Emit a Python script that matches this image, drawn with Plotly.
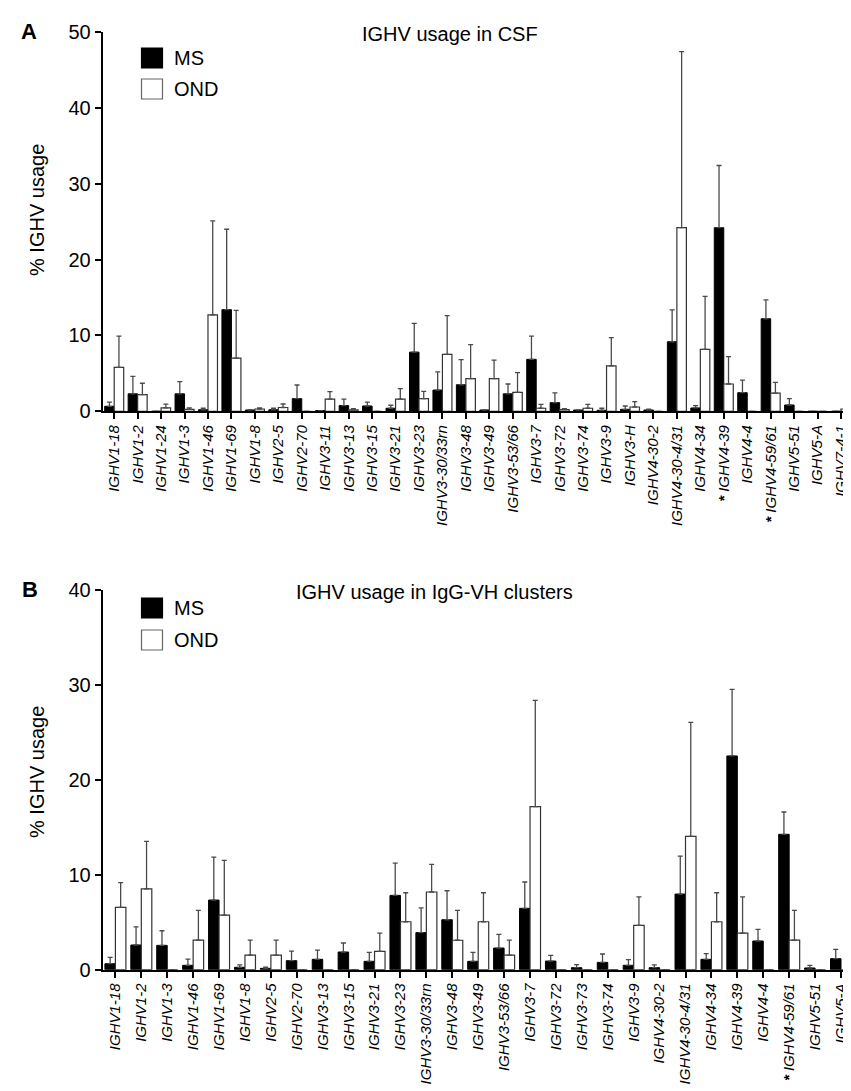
import plotly.graph_objects as go

# ---------------- Panel A: IGHV usage in CSF ----------------
genes_A = ["IGHV1-18", "IGHV1-2", "IGHV1-24", "IGHV1-3", "IGHV1-46", "IGHV1-69", "IGHV1-8",
           "IGHV2-5", "IGHV2-70", "IGHV3-11", "IGHV3-13", "IGHV3-15", "IGHV3-21", "IGHV3-23",
           "IGHV3-30/33rn", "IGHV3-48", "IGHV3-49", "IGHV3-53/66", "IGHV3-7", "IGHV3-72",
           "IGHV3-74", "IGHV3-9", "IGHV3-H", "IGHV4-30-2", "IGHV4-30-4/31", "IGHV4-34",
           "IGHV4-39", "IGHV4-4", "IGHV4-59/61", "IGHV5-51", "IGHV5-A", "IGHV7-4-1"]
sig_A = ["IGHV4-39", "IGHV4-59/61"]
ms_A = [0.66, 2.3, 0.0, 2.3, 0.2, 13.4, 0.17, 0.2, 1.67, 0.1, 0.75, 0.7, 0.4, 7.8,
        2.8, 3.5, 0.17, 2.3, 6.85, 1.14, 0.17, 0.13, 0.26, 0.17, 9.17, 0.44,
        24.2, 2.45, 12.2, 0.83, 0.0, 0.0]
ms_A_sem = [0.55, 2.3, 0.0, 1.6, 0.2, 10.6, 0.05, 0.2, 1.8, 0.0, 0.85, 0.5, 0.4, 3.8,
            2.4, 3.3, 0.0, 1.3, 3.05, 1.3, 0.0, 0.27, 0.44, 0.1, 4.2, 0.3,
            8.2, 1.65, 2.5, 0.85, 0.0, 0.0]
ond_A = [5.8, 2.2, 0.44, 0.26, 12.7, 7.0, 0.3, 0.5, 0.0, 1.6, 0.2, 0.0, 1.6, 1.67,
         7.5, 4.3, 4.3, 2.5, 0.4, 0.22, 0.4, 6.0, 0.57, 0.0, 24.2, 8.16,
         3.6, 0.0, 2.4, 0.0, 0.0, 0.3]
ond_A_sem = [4.1, 1.5, 0.5, 0.18, 12.4, 6.3, 0.15, 0.46, 0.0, 1.0, 0.15, 0.0, 1.4, 0.95,
             5.1, 4.5, 2.45, 2.6, 0.5, 0.13, 0.52, 3.7, 0.7, 0.0, 23.2, 7.0,
             3.6, 0.0, 1.4, 0.0, 0.0, 0.1]

# ---------------- Panel B: IGHV usage in IgG-VH clusters ----------------
genes_B = ["IGHV1-18", "IGHV1-2", "IGHV1-3", "IGHV1-46", "IGHV1-69", "IGHV1-8", "IGHV2-5",
           "IGHV2-70", "IGHV3-13", "IGHV3-15", "IGHV3-21", "IGHV3-23", "IGHV3-30/33rn",
           "IGHV3-48", "IGHV3-49", "IGHV3-53/66", "IGHV3-7", "IGHV3-72", "IGHV3-73",
           "IGHV3-74", "IGHV3-9", "IGHV4-30-2", "IGHV4-30-4/31", "IGHV4-34", "IGHV4-39",
           "IGHV4-4", "IGHV4-59/61", "IGHV5-51", "IGHV5-A"]
sig_B = ["IGHV4-59/61"]
ms_B = [0.63, 2.6, 2.56, 0.46, 7.33, 0.25, 0.14, 0.95, 1.09, 1.86, 0.88, 7.82, 3.9,
        5.26, 0.88, 2.28, 6.46, 0.91, 0.21, 0.77, 0.46, 0.21, 7.96, 1.09, 22.5,
        3.02, 14.25, 0.18, 1.16]
ms_B_sem = [0.67, 1.9, 1.54, 0.66, 4.53, 0.25, 0.14, 1.0, 0.98, 0.95, 0.94, 3.4, 2.6,
            3.05, 0.94, 1.44, 2.77, 0.6, 0.32, 0.88, 0.6, 0.3, 4.0, 0.6, 7.0,
            1.23, 2.35, 0.28, 0.98]
ond_B = [6.56, 8.5, 0.0, 3.12, 5.75, 1.54, 1.54, 0.0, 0.0, 0.0, 1.93, 5.05, 8.18,
         3.1, 5.05, 1.54, 17.16, 0.0, 0.0, 0.0, 4.67, 0.0, 14.04, 5.05, 3.86,
         0.0, 3.12, 0.0, 0.0]
ond_B_sem = [2.6, 5.0, 0.0, 3.13, 5.75, 1.58, 1.58, 0.0, 0.0, 0.0, 1.93, 3.05, 2.9,
             3.15, 3.05, 1.58, 11.2, 0.0, 0.0, 0.0, 3.0, 0.0, 12.0, 3.05, 3.8,
             0.0, 3.13, 0.0, 0.0]

series_names = ["MS", "OND"]
titles = ["IGHV usage in CSF", "IGHV usage in IgG-VH clusters"]
panel_letters = ["A", "B"]
y_title = "% IGHV usage"
y_max = [50, 40]

W, H = 851, 1091
FONT = "Liberation Sans, Arial, Helvetica, sans-serif"
ERRC = "#4a4a4a"


def px(x):
    return x / W


def py(y):
    return 1 - y / H


fig = go.Figure()


def add_panel(xa, ya, genes, ms, ms_sem, ond, ond_sem):
    fig.add_trace(go.Bar(
        x=list(range(len(genes))), y=ms, name=series_names[0], xaxis=xa, yaxis=ya,
        marker=dict(color="black", line=dict(color="black", width=1)),
        error_y=dict(type="data", array=ms_sem, arrayminus=[0] * len(ms), symmetric=False,
                     color=ERRC, thickness=1.3, width=2.5),
        showlegend=False))
    fig.add_trace(go.Bar(
        x=list(range(len(genes))), y=ond, name=series_names[1], xaxis=xa, yaxis=ya,
        marker=dict(color="white", line=dict(color="#333333", width=1.2)),
        error_y=dict(type="data", array=ond_sem, arrayminus=[0] * len(ond), symmetric=False,
                     color=ERRC, thickness=1.3, width=2.5),
        showlegend=False))


add_panel("x", "y", genes_A, ms_A, ms_A_sem, ond_A, ond_A_sem)
add_panel("x2", "y2", genes_B, ms_B, ms_B_sem, ond_B, ond_B_sem)


def ticktexts(genes, sig):
    return [("<b>*</b> " if g in sig else "") + g for g in genes]


left = 94.5
first_A, last_A = 106.2, 833.0
first_B, last_B = 107.4, 833.0
spacing_A = (last_A - first_A) / (len(genes_A) - 1)
spacing_B = (last_B - first_B) / (len(genes_B) - 1)
yA0, yA1 = 403.3, 24.0
yB0, yB1 = 961.7, 581.7


def xrange_for(first, spacing):
    lo = -(first - left) / spacing
    hi = (W - first) / spacing
    return [lo, hi]


xcommon = dict(showline=True, linecolor="black", linewidth=1.6, ticks="outside",
               ticklen=6, tickwidth=1.5, tickcolor="black", tickangle=-90,
               tickfont=dict(family=FONT, size=15, color="black", style="italic"),
               showgrid=False, zeroline=False, tickmode="array", automargin=False,
               ticklabeloverflow="allow")
ycommon = dict(showline=True, linecolor="black", linewidth=1.6, ticks="outside",
               ticklen=6, tickwidth=1.5, tickcolor="black", dtick=10,
               tickfont=dict(family=FONT, size=20, color="black"),
               showgrid=False, zeroline=False, automargin=False)

fig.update_layout(
    width=W, height=H, margin=dict(l=0, r=0, t=0, b=0, autoexpand=False),
    paper_bgcolor="white", plot_bgcolor="white",
    barmode="group", bargap=0.19, bargroupgap=0.0,
    font=dict(family=FONT, color="black"),
    xaxis=dict(xcommon, domain=[px(left), 1], anchor="y",
               range=xrange_for(first_A, spacing_A),
               tickvals=list(range(len(genes_A))), ticktext=ticktexts(genes_A, sig_A)),
    yaxis=dict(ycommon, domain=[py(yA0), py(yA1)], anchor="x", range=[0, y_max[0]]),
    xaxis2=dict(xcommon, domain=[px(left), 1], anchor="y2",
                range=xrange_for(first_B, spacing_B),
                tickvals=list(range(len(genes_B))), ticktext=ticktexts(genes_B, sig_B)),
    yaxis2=dict(ycommon, domain=[py(yB0), py(yB1)], anchor="x2", range=[0, y_max[1]]),
)

annotations = []
shapes = []
panel_top = [(yA1, 442), (yB1, 426)]
legend_y = [(50, 81), (600, 632)]
letter_pos = [(21, 24), (22, 581)]
ytitle_y = [202, 764]
for i in range(2):
    ty, tx = panel_top[i]
    annotations.append(dict(text=titles[i], x=px(tx), y=py(ty + 2), xref="paper", yref="paper",
                            showarrow=False, xanchor="center", yanchor="middle",
                            font=dict(family=FONT, size=20, color="black")))
    lx, ly = letter_pos[i]
    annotations.append(dict(text="<b>" + panel_letters[i] + "</b>", x=px(lx), y=py(ly),
                            xref="paper", yref="paper", showarrow=False,
                            xanchor="center", yanchor="middle",
                            font=dict(family=FONT, size=22, color="black")))
    annotations.append(dict(text=y_title, x=px(29), y=py(ytitle_y[i]), xref="paper",
                            yref="paper", showarrow=False, textangle=-90,
                            xanchor="center", yanchor="middle",
                            font=dict(family=FONT, size=20, color="black")))
    for j, (name, fill, lc) in enumerate([(series_names[0], "black", "black"),
                                          (series_names[1], "white", "#666666")]):
        cy = legend_y[i][j]
        shapes.append(dict(type="rect", xref="paper", yref="paper",
                           x0=px(133.5), x1=px(154.5), y0=py(cy + 10), y1=py(cy - 10),
                           fillcolor=fill, line=dict(color=lc, width=1.2)))
        annotations.append(dict(text=name, x=px(164), y=py(cy), xref="paper", yref="paper",
                                showarrow=False, xanchor="left", yanchor="middle",
                                font=dict(family=FONT, size=20, color="black")))

fig.update_layout(annotations=annotations, shapes=shapes)
fig.write_html("out.html")
